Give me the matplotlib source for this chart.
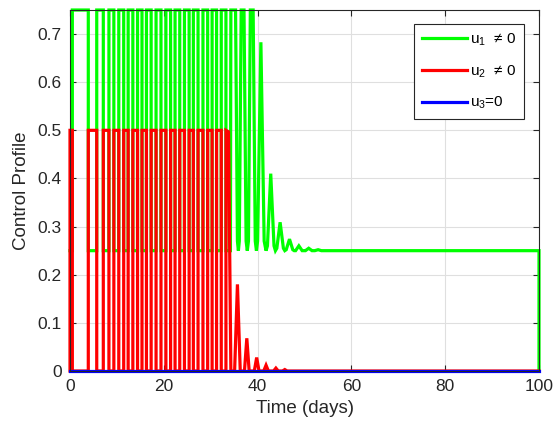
import numpy as np
import matplotlib
matplotlib.use("Agg")
import matplotlib.pyplot as plt

plt.rcParams['font.family'] = ['Liberation Sans', 'DejaVu Sans']
plt.rcParams['mathtext.fontset'] = 'custom'
plt.rcParams['mathtext.rm'] = 'Liberation Sans'
plt.rcParams['mathtext.it'] = 'Liberation Sans'
plt.rcParams['mathtext.default'] = 'regular'

# ---------------- data ----------------
# bang-bang phase: switching times (days); state A: u1 low / u2 high
switch_times = [0.5, 3.9, 5.7, 7.1, 8.3, 9.35, 10.4, 11.45, 12.4, 13.4,
                14.4, 15.35, 16.3, 17.3, 18.35, 19.4, 20.45, 21.45, 22.4,
                23.4, 24.4, 25.4, 26.3, 27.3, 28.35, 29.35, 30.3, 31.25,
                32.25, 33.25]
u1_state_A, u1_state_B = 0.25, 0.75
u2_state_A, u2_state_B = 0.5, 0.0

# decaying tails after the bang-bang phase
u1_tail_t = [34.2, 34.3, 35.3, 35.7, 35.9, 36.1, 36.5, 37.1, 37.55, 37.8,
             38.05, 38.45, 39.05, 39.5, 39.75, 40.0, 40.7, 41.4, 41.8, 42.1,
             42.8, 43.5, 43.8, 44.1, 44.8, 45.5, 45.8, 46.1, 46.8, 47.5,
             47.8, 48.1, 48.8, 49.5, 49.9, 50.2, 50.9, 51.6, 51.9, 52.2,
             52.9, 53.6, 100.0, 100.0]
u1_tail_v = [0.25, 0.75, 0.75, 0.27, 0.25, 0.27, 0.75, 0.75, 0.27, 0.25,
             0.27, 0.75, 0.75, 0.27, 0.25, 0.27, 0.683, 0.27, 0.25, 0.26,
             0.41, 0.26, 0.25, 0.255, 0.309, 0.255, 0.25, 0.252, 0.274, 0.252,
             0.25, 0.25, 0.260, 0.25, 0.25, 0.25, 0.255, 0.25, 0.25, 0.25,
             0.252, 0.25, 0.25, 0.0]

u2_tail_t = [33.8, 34.3, 35.1, 35.7, 36.3, 37.2, 37.7, 38.2, 39.3, 39.8,
             40.3, 41.3, 41.8, 42.3, 43.4, 43.9, 44.4, 45.3, 45.8, 46.3, 100.0]
u2_tail_v = [0.497, 0.0, 0.0, 0.18, 0.0, 0.0, 0.068, 0.0, 0.0, 0.028,
             0.0, 0.0, 0.012, 0.0, 0.0, 0.006, 0.0, 0.0, 0.003, 0.0, 0.0]

u3_t = [0.0, 100.0]
u3_v = [0.0, 0.0]

labels = [r'u$_1$  ≠ 0', r'u$_2$  ≠ 0', r'u$_3$=0']
x_ticks = [0, 20, 40, 60, 80, 100]
y_ticks = [0, 0.1, 0.2, 0.3, 0.4, 0.5, 0.6, 0.7]


def bang_bang(times, a_val, b_val):
    ts, vs = [0.0], [a_val]
    cur, other = a_val, b_val
    for s in times:
        ts += [s, s]
        vs += [cur, other]
        cur, other = other, cur
    return ts, vs


g_t, g_v = bang_bang(switch_times, u1_state_A, u1_state_B)
g_t += u1_tail_t
g_v += u1_tail_v
r_t, r_v = bang_bang(switch_times, u2_state_A, u2_state_B)
r_t = [0.0] + r_t + u2_tail_t
r_v = [0.0] + r_v + u2_tail_v

# ---------------- plot ----------------
fig = plt.figure(figsize=(5.56, 4.36), dpi=100)
ax = fig.add_axes([70 / 556, 65 / 436, 469 / 556, 361 / 436])

lw = 2.3
ax.plot(g_t, g_v, color='#00ff00', lw=lw, label=labels[0], clip_on=False,
        solid_joinstyle='miter')
ax.plot(r_t, r_v, color='#ff0000', lw=lw, label=labels[1], clip_on=False,
        solid_joinstyle='miter')
ax.plot(u3_t, u3_v, color='#0000ff', lw=lw, label=labels[2], clip_on=False)

ax.set_xlim(0, 100)
ax.set_ylim(0, 0.75)
ax.set_xticks(x_ticks)
ax.set_yticks(y_ticks)
ax.set_yticklabels(['0' if v == 0 else f'{v:.1f}' for v in y_ticks])
ax.grid(True, color='#dfdfdf', lw=0.8)
ax.set_axisbelow(True)

for sp in ax.spines.values():
    sp.set_color('#262626')
    sp.set_linewidth(0.8)
ax.tick_params(direction='in', top=True, right=True, length=4,
               width=0.8, colors='#262626', labelsize=12.5, pad=6)

ax.set_xlabel('Time (days)', fontsize=13.5, color='#262626', labelpad=4)
ax.set_ylabel('Control Profile', fontsize=13.5, color='#262626', labelpad=5)

leg = ax.legend(loc='upper right', bbox_to_anchor=(0.968, 0.961),
                borderaxespad=0, fontsize=11, handlelength=3.0,
                handletextpad=0.2, labelspacing=1.0, borderpad=0.5,
                fancybox=False, framealpha=1, edgecolor='#262626')
leg.get_frame().set_linewidth(0.8)

fig.savefig('out.png', dpi=100)
